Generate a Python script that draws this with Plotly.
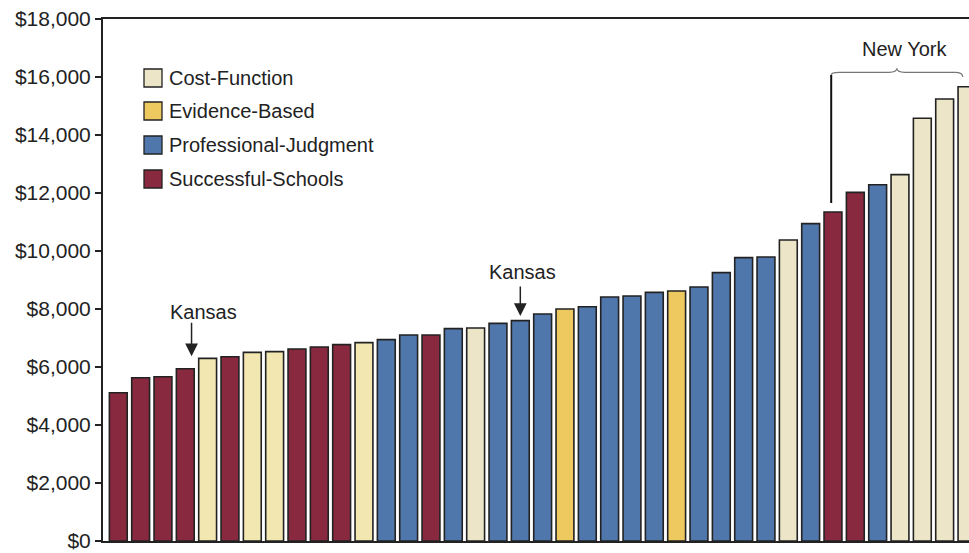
import plotly.graph_objects as go

# ---- data ----
values = [5114, 5631, 5666, 5941, 6299, 6356, 6506, 6529, 6621, 6690, 6770, 6839,
          6943, 7103, 7103, 7322, 7345, 7506, 7598, 7828, 8000, 8080, 8414, 8448,
          8575, 8621, 8759, 9253, 9770, 9793, 10379, 10943, 11345, 12023, 12287,
          12632, 14575, 15241, 15666]
methods = ["S", "S", "S", "S", "C", "S", "C", "C", "S", "S", "S", "C",
           "P", "P", "S", "P", "C", "P", "P", "P", "E", "P", "P", "P",
           "P", "E", "P", "P", "P", "P", "C", "P", "S", "S", "P",
           "C", "C", "C", "C"]
method_names = {"C": "Cost-Function", "E": "Evidence-Based",
                "P": "Professional-Judgment", "S": "Successful-Schools"}
legend_order = ["C", "E", "P", "S"]
method_colors = {"C": "#EDE5C8", "E": "#EEC95F", "P": "#5077AC", "S": "#88293F"}
pale_cost_bars = [4, 6, 7, 11]  # printed in a more yellow cream
pale_cost_color = "#F3E7B1"
y_ticks = [0, 2000, 4000, 6000, 8000, 10000, 12000, 14000, 16000, 18000]
y_tick_labels = ["$0", "$2,000", "$4,000", "$6,000", "$8,000", "$10,000",
                 "$12,000", "$14,000", "$16,000", "$18,000"]
kansas_bars = [3, 18]
ny_first, ny_last = 32, 38

FONT = "Liberation Sans, Arial, Helvetica, sans-serif"
TXT = "#222222"

# plot-area pixel geometry
L, R, T, B = 103, 969, 19, 541

def px(X):
    return (X - L) / (R - L)

def py(Y):
    return (B - Y) / (B - T)

fig = go.Figure()
idx = list(range(len(values)))
for m in legend_order:
    xs = [i for i in idx if methods[i] == m]
    ys = [values[i] for i in xs]
    cols = [pale_cost_color if (m == "C" and i in pale_cost_bars) else method_colors[m] for i in xs]
    fig.add_trace(go.Bar(
        x=xs, y=ys, name=method_names[m], width=0.8,
        marker=dict(color=cols, line=dict(color="#222222", width=1.6)),
        showlegend=False,
    ))

# manual legend (large square swatches)
leg_y = [78, 111, 145, 179]
for k, m in enumerate(legend_order):
    yc = leg_y[k]
    fig.add_shape(type="rect", xref="paper", yref="paper",
                  x0=px(144), x1=px(162), y0=py(yc + 9), y1=py(yc - 9),
                  fillcolor=method_colors[m], line=dict(color="#222222", width=1.3))
    fig.add_annotation(xref="paper", yref="paper", x=px(167), y=py(yc),
                       text=method_names[m], showarrow=False, xanchor="left",
                       yanchor="middle", font=dict(family=FONT, size=20, color=TXT))

# Kansas annotations
k0, k1 = kansas_bars
fig.add_annotation(x=k0 + 0.28, y=values[k0] + 430, text="", showarrow=True,
                   arrowhead=2, arrowsize=1.7, arrowwidth=1.5, arrowcolor=TXT,
                   ax=0, ay=-35)
fig.add_annotation(x=k1, y=values[k1] + 160, text="", showarrow=True,
                   arrowhead=2, arrowsize=1.7, arrowwidth=1.5, arrowcolor=TXT,
                   ax=0, ay=-31)
fig.add_annotation(x=k0 + 0.8, y=values[k0] + 1966, text="Kansas", showarrow=False,
                   font=dict(family=FONT, size=20, color=TXT))
fig.add_annotation(x=k1 + 0.1, y=values[k1] + 1688, text="Kansas", showarrow=False,
                   font=dict(family=FONT, size=20, color=TXT))

# New York bracket
xl = ny_first - 0.08
xr = ny_last - 0.19
xm = 34.86
yb = 16160
fig.add_shape(type="line", x0=xl, x1=xl, y0=values[ny_first] + 310, y1=16070,
              line=dict(color="#111111", width=2))
brace = (f"M {xl},16070 Q {xl},{yb} {xl+0.35},{yb} L {xm-0.35},{yb} "
         f"Q {xm},{yb} {xm},16300 Q {xm},{yb} {xm+0.35},{yb} "
         f"L {xr-0.35},{yb} Q {xr},{yb} {xr},16000")
fig.add_shape(type="path", path=brace, line=dict(color="#777777", width=1.2))
fig.add_annotation(x=35.19, y=16966, text="New York", showarrow=False,
                   font=dict(family=FONT, size=20, color=TXT))

fig.update_layout(
    width=969, height=553,
    margin=dict(l=L, r=969 - R, t=T, b=553 - B),
    paper_bgcolor="white", plot_bgcolor="white",
    barmode="overlay",
    xaxis=dict(range=[-0.685, 38.09], showticklabels=False, ticks="",
               showgrid=False, zeroline=False, showline=True, linecolor="#222222",
               linewidth=2, mirror=True),
    yaxis=dict(range=[0, 18000], tickvals=y_ticks, ticktext=y_tick_labels,
               ticks="outside", ticklen=6, tickwidth=1.5, tickcolor="#222222",
               showgrid=False, zeroline=False, showline=True, linecolor="#222222",
               linewidth=2, tickfont=dict(family=FONT, size=21, color=TXT)),
    font=dict(family=FONT, color=TXT),
)

fig.write_html("out.html")
